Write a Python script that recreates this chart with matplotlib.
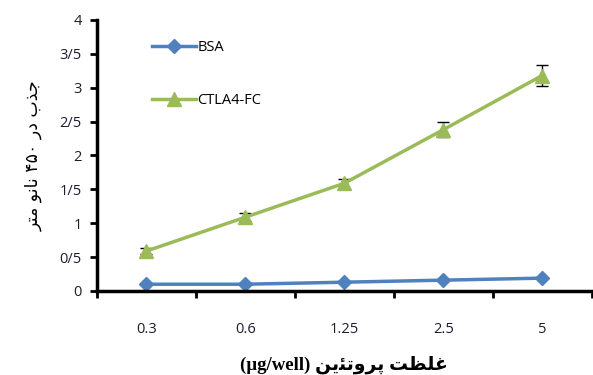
import matplotlib.pyplot as plt
import numpy as np

# data
categories = ['0.3', '0.6', '1.25', '2.5', '5']
bsa = [0.10, 0.10, 0.13, 0.16, 0.19]
ctla4 = [0.59, 1.09, 1.59, 2.38, 3.18]
ctla4_err = [0.04, 0.06, 0.07, 0.11, 0.15]
y_ticks = [0, 0.5, 1, 1.5, 2, 2.5, 3, 3.5, 4]
y_ticklabels = ['0', '0/5', '1', '1/5', '2', '2/5', '3', '3/5', '4']

# Arabic text in presentation forms, visual order (matplotlib does no shaping)
ylab = ('\uFEAE\uFE98\uFEE3' + ' ' + '\uFEEE\uFEE7\uFE8E\uFEE7' + ' ' +
        '\u06F4\u06F5\u06F0' + ' ' + '\uFEAD\uFEA9' + ' ' + '\uFE8F\uFEAC\uFE9F')
xlab = ('(\u00B5g/well)' + ' ' + '\uFEE6\uFBFE\uFE8C\uFE97\uFEED\uFEAE\uFB58' +
        ' ' + '\uFE96\uFEC8\uFEE0\uFECF')

fig = plt.figure(figsize=(5.93, 3.75), dpi=100)
ax = fig.add_axes([0.1636, 0.224, 0.834, 0.7227])

x = np.arange(len(categories))
ax.errorbar(x, ctla4, yerr=ctla4_err, fmt='none', ecolor='black',
            elinewidth=1, capsize=4, capthick=1, zorder=1.5)
ax.plot(x, bsa, color='#4F81BD', lw=2.5, marker='D', ms=7, label='BSA', zorder=2)
ax.plot(x, ctla4, color='#9BBB59', lw=2.5, marker='^', ms=10, label='CTLA4-FC', zorder=2)

ax.set_xlim(-0.5, len(categories) - 0.5)
ax.set_ylim(0, 4)
ax.set_yticks(y_ticks)
ax.set_yticklabels(y_ticklabels, color='#1c1c30', fontsize=10.5, family='Open Sans')
ax.set_xticks(x)
ax.set_xticklabels(categories, color='#1c1c30', fontsize=10.5, family='Open Sans')
ax.tick_params(axis='x', which='major', length=0, pad=22)
ax.set_xticks(np.arange(-0.5, len(categories)), minor=True)
ax.tick_params(axis='x', which='minor', length=5, width=2, direction='out')
ax.tick_params(axis='y', length=5, width=2, direction='out', pad=6)

for s in ['top', 'right']:
    ax.spines[s].set_visible(False)
for s in ['left', 'bottom']:
    ax.spines[s].set_linewidth(2.5)

ax.set_ylabel(ylab, fontsize=12.5, family='DejaVu Sans', labelpad=12)
ax.set_xlabel(xlab, fontsize=13.5, fontweight='bold',
              family=['Liberation Serif', 'DejaVu Sans'], labelpad=14)

leg = ax.legend(loc='upper left', bbox_to_anchor=(0.085, 0.975), frameon=False,
                labelspacing=2.6, handlelength=3.0, handletextpad=0.1,
                prop={'family': 'Open Sans', 'size': 10.5})

plt.savefig('out.png', dpi=100)
